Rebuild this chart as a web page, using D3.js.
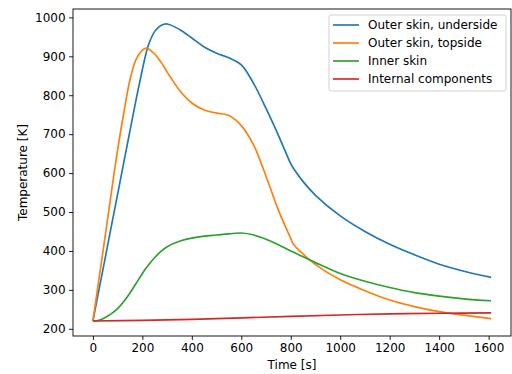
<!DOCTYPE html>
<html>
<head>
<meta charset="utf-8">
<script src="https://cdn.jsdelivr.net/npm/d3@7"></script>
<style>
  html, body { margin: 0; padding: 0; background: #fff; }
  svg { display: block; }
  text { font-family: "DejaVu Sans", sans-serif; fill: #000; }
</style>
</head>
<body>
<svg id="chart" width="512" height="374"></svg>
<script>
// ---- Data ----
const seriesNames = ["Outer skin, underside", "Outer skin, topside", "Inner skin", "Internal components"];
const seriesColors = ["#1f77b4", "#ff7f0e", "#2ca02c", "#d62728"];

const times = [0, 25, 50, 75, 100, 125, 150, 175, 200, 215, 225, 250, 275, 300, 350, 400, 450, 500, 550, 600,
               650, 700, 750, 800, 810, 850, 900, 1000, 1100, 1200, 1300, 1400, 1500, 1610];

const outerUnderside = [220, 302, 383, 465, 546, 628, 709, 790, 866, 908, 930, 964, 979, 983, 969, 947, 924, 908, 896, 878,
                        830, 766, 697, 624, 613, 578, 543, 490, 450, 417, 390, 366, 348, 332];

const outerTopside = [220, 330, 440, 552, 660, 755, 840, 893, 916, 921, 919, 906, 885, 860, 813, 780, 762, 754, 748, 722,
                      672, 592, 505, 432, 418, 392, 365, 326, 298, 274, 257, 244, 235, 226];

const innerSkin = [220, 222, 229, 239, 252, 270, 292, 317, 342, 356, 364, 383, 399, 411, 425, 433, 438, 441, 444, 446,
                   441, 430, 416, 400, 397, 385, 370, 342, 322, 306, 293, 284, 277, 272];

const internalTimes = [0, 200, 400, 600, 800, 1000, 1200, 1400, 1610];
const internalComponents = [220, 221.5, 224, 228, 232, 235.5, 238.5, 240, 241];

const xTicks = [0, 200, 400, 600, 800, 1000, 1200, 1400, 1600];
const yTicks = [200, 300, 400, 500, 600, 700, 800, 900, 1000];

const xLabel = "Time [s]";
const yLabel = "Temperature [K]";

// ---- Layout ----
const plot = { left: 73, top: 9, right: 511, bottom: 336 };

const svg = d3.select("#chart");

const x = d3.scaleLinear().domain([-80.5, 1690.5]).range([plot.left, plot.right]);
const y = d3.scaleLinear().domain([181.5, 1021.5]).range([plot.bottom, plot.top]);

const seriesData = [
  times.map((t, i) => [t, outerUnderside[i]]),
  times.map((t, i) => [t, outerTopside[i]]),
  times.map((t, i) => [t, innerSkin[i]]),
  internalTimes.map((t, i) => [t, internalComponents[i]])
];

svg.append("defs").append("clipPath").attr("id", "clip")
  .append("rect").attr("x", plot.left).attr("y", plot.top)
  .attr("width", plot.right - plot.left).attr("height", plot.bottom - plot.top);

const line = d3.line().x(d => x(d[0])).y(d => y(d[1])).curve(d3.curveCatmullRom.alpha(0.5));

const g = svg.append("g").attr("clip-path", "url(#clip)");
seriesData.forEach((data, i) => {
  g.append("path")
    .datum(data)
    .attr("d", line)
    .attr("fill", "none")
    .attr("stroke", seriesColors[i])
    .attr("stroke-width", 1.67)
    .attr("stroke-linejoin", "round")
    .attr("stroke-linecap", "butt");
});

// axes
const fontSize = 12;
const xAxis = d3.axisBottom(x).tickValues(xTicks).tickFormat(d3.format("d")).tickSize(3.9).tickPadding(3.5);
const yAxis = d3.axisLeft(y).tickValues(yTicks).tickFormat(d3.format("d")).tickSize(3.9).tickPadding(3.5);

const gx = svg.append("g").attr("transform", `translate(0,${plot.bottom})`).call(xAxis);
const gy = svg.append("g").attr("transform", `translate(${plot.left},0)`).call(yAxis);
[gx, gy].forEach(a => {
  a.select(".domain").remove();
  a.selectAll(".tick line").attr("stroke", "#000").attr("stroke-width", 0.9);
  a.selectAll(".tick text").attr("font-size", fontSize).attr("font-family", "DejaVu Sans").attr("fill", "#000");
});

// spines
svg.append("rect")
  .attr("x", plot.left).attr("y", plot.top)
  .attr("width", plot.right - plot.left).attr("height", plot.bottom - plot.top)
  .attr("fill", "none").attr("stroke", "#000").attr("stroke-width", 0.9);

// axis labels
svg.append("text")
  .attr("x", (plot.left + plot.right) / 2).attr("y", 369)
  .attr("text-anchor", "middle").attr("font-size", fontSize)
  .text(xLabel);

svg.append("text")
  .attr("transform", `translate(27,${(plot.top + plot.bottom) / 2}) rotate(-90)`)
  .attr("text-anchor", "middle").attr("font-size", fontSize)
  .text(yLabel);

// legend
const legend = svg.append("g");
const lx = 329, ly = 15, lw = 177, lh = 76;
legend.append("rect")
  .attr("x", lx).attr("y", ly).attr("width", lw).attr("height", lh)
  .attr("rx", 2.5).attr("ry", 2.5)
  .attr("fill", "#fff").attr("fill-opacity", 0.8)
  .attr("stroke", "#cccccc").attr("stroke-width", 0.9);

seriesNames.forEach((name, i) => {
  const yy = 25 + i * 18;
  legend.append("line")
    .attr("x1", 333).attr("x2", 359).attr("y1", yy).attr("y2", yy)
    .attr("stroke", seriesColors[i]).attr("stroke-width", 1.67);
  legend.append("text")
    .attr("x", 368).attr("y", yy).attr("dy", "0.35em")
    .attr("font-size", fontSize)
    .text(name);
});
</script>
</body>
</html>
